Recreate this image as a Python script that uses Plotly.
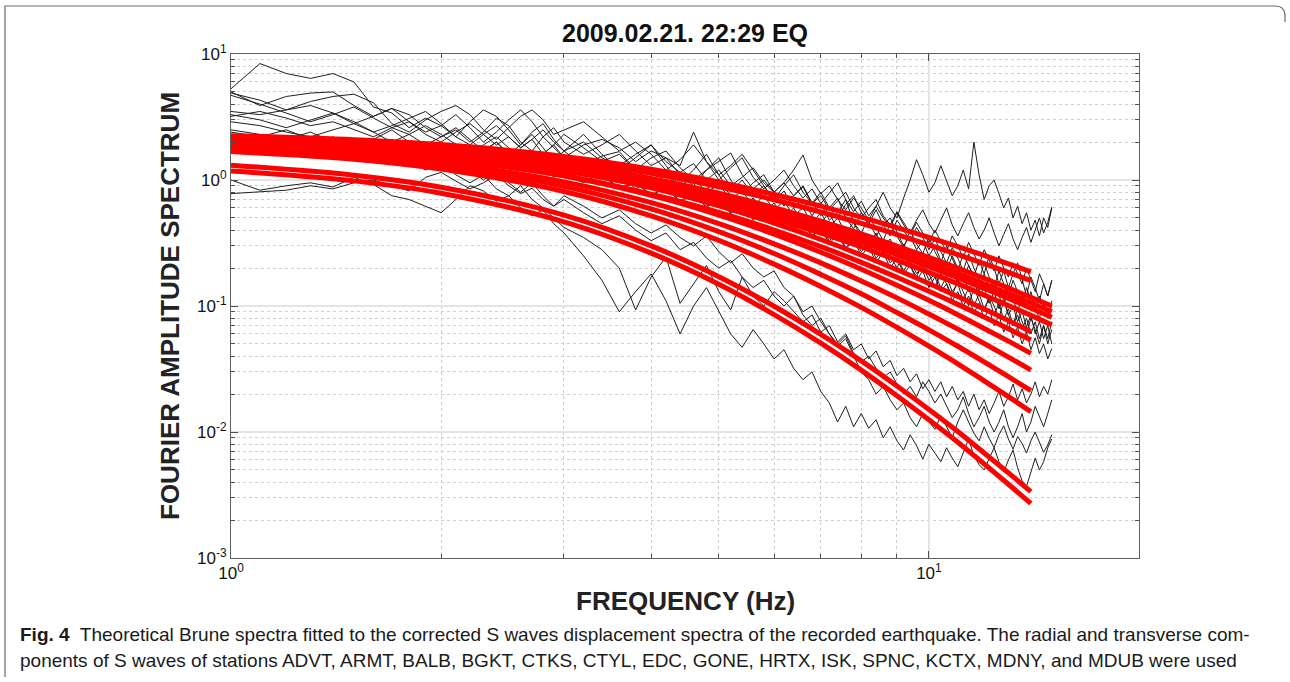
import math
import plotly.graph_objects as go

# ---------------- data ----------------
TITLE = "2009.02.21. 22:29 EQ"
X_TITLE = "FREQUENCY (Hz)"
Y_TITLE = "FOURIER AMPLITUDE SPECTRUM"
CAPTION_1 = ("<b>Fig. 4</b>  Theoretical Brune spectra fitted to the corrected S waves displacement spectra "
             "of the recorded earthquake. The radial and transverse com-")
CAPTION_2 = ("ponents of S waves of stations ADVT, ARMT, BALB, BGKT, CTKS, CTYL, EDC, GONE, HRTX, ISK, "
             "SPNC, KCTX, MDNY, and MDUB were used")

X_TICKS = [1, 10]
X_TICKTEXT = ["10<sup>0</sup>", "10<sup>1</sup>"]
Y_TICKS = [0.001, 0.01, 0.1, 1, 10]
Y_TICKTEXT = ["10<sup>-3</sup>", "10<sup>-2</sup>", "10<sup>-1</sup>", "10<sup>0</sup>", "10<sup>1</sup>"]
X_MINOR = [2, 3, 4, 5, 6, 7, 8, 9]
Y_MINOR = [0.002, 0.003, 0.004, 0.005, 0.006, 0.007, 0.008, 0.009,
           0.02, 0.03, 0.04, 0.05, 0.06, 0.07, 0.08, 0.09,
           0.2, 0.3, 0.4, 0.5, 0.6, 0.7, 0.8, 0.9,
           2, 3, 4, 5, 6, 7, 8, 9]

# frequency sampling of the observed spectra (Hz)
FREQ_OBS = [1.0, 1.1, 1.2, 1.3, 1.4, 1.5, 1.6, 1.7, 1.8, 1.9, 2.0, 2.1, 2.2, 2.3, 2.4, 2.5, 2.6, 2.7, 2.8, 2.9, 3.0,
            3.2, 3.4, 3.6, 3.8, 4.0, 4.2, 4.4, 4.6, 4.8, 5.0, 5.2, 5.4, 5.6, 5.8, 6.0,
            6.2, 6.4, 6.6, 6.8, 7.0, 7.2, 7.4, 7.6, 7.8, 8.0, 8.2, 8.4, 8.6, 8.8, 9.0, 9.2, 9.4, 9.6, 9.8, 10.0,
            10.2, 10.4, 10.6, 10.8, 11.0, 11.2, 11.4, 11.6, 11.8, 12.0, 12.2, 12.4, 12.6, 12.8, 13.0,
            13.2, 13.4, 13.6, 13.8, 14.0, 14.2, 14.4, 14.6, 14.8, 15.0]

# observed S-wave displacement spectra (black)
OBS_1 = [5.3, 8.4, 7.0, 6.4, 7.0, 6.0, 3.8, 3.4, 2.6, 3.1, 2.7, 2.2, 2.9, 3.6, 3.2, 2.5, 1.9, 2.4, 2.8, 2.1, 1.7,
         2.3, 1.6, 1.2, 1.5, 1.9, 1.3, 0.95, 1.2, 1.6, 1.1, 0.8, 1.0, 0.75, 0.9, 0.68,
         0.82, 0.6, 0.7, 0.52, 0.66, 0.48, 0.55, 0.7, 0.46, 0.38, 0.5, 0.42, 0.33, 0.45, 0.36, 0.29, 0.4, 0.31, 0.26, 0.35,
         0.27, 0.22, 0.3, 0.24, 0.19, 0.26, 0.21, 0.17, 0.23, 0.18, 0.25, 0.2, 0.15, 0.19, 0.14, 0.18, 0.22, 0.16, 0.12,
         0.17, 0.14, 0.11, 0.15, 0.12, 0.16]
OBS_2 = [5.0, 3.9, 4.6, 4.9, 5.0, 3.9, 3.2, 3.7, 2.9, 2.4, 2.7, 3.3, 2.6, 2.0, 2.4, 3.0, 3.6, 2.9, 2.2, 2.6, 2.0,
         1.6, 1.9, 2.3, 1.7, 1.3, 1.5, 1.1, 0.9, 1.2, 1.5, 1.0, 0.78, 0.95, 1.1, 0.8,
         0.62, 0.75, 0.9, 0.66, 0.52, 0.6, 0.72, 0.5, 0.41, 0.55, 0.47, 0.36, 0.44, 0.5, 0.38, 0.3, 0.36, 0.28, 0.33, 0.25,
         0.3, 0.23, 0.19, 0.25, 0.2, 0.16, 0.21, 0.17, 0.13, 0.18, 0.14, 0.16, 0.12, 0.1, 0.14, 0.11, 0.09, 0.12, 0.1,
         0.13, 0.095, 0.08, 0.11, 0.085, 0.1]
OBS_3 = [4.9, 4.3, 3.6, 4.2, 4.6, 4.8, 4.1, 2.8, 2.4, 3.0, 3.5, 3.9, 3.3, 2.5, 2.1, 2.6, 3.2, 3.6, 3.0, 2.3, 2.5,
         2.9, 2.2, 1.7, 2.0, 1.6, 1.2, 1.45, 1.9, 1.4, 1.0, 1.25, 1.5, 1.05, 0.85, 1.0,
         1.2, 0.9, 0.72, 0.85, 0.65, 0.78, 0.95, 0.7, 0.56, 0.68, 0.52, 0.62, 0.8, 0.6, 0.5, 0.72, 1.0, 1.45, 1.1, 0.8,
         0.95, 1.3, 1.0, 0.75, 0.9, 1.2, 0.85, 2.0, 1.1, 0.7, 0.9, 1.0, 0.78, 0.6, 0.72, 0.5, 0.62, 0.45, 0.55,
         0.4, 0.48, 0.36, 0.5, 0.42, 0.6]
OBS_4 = [3.5, 3.3, 3.6, 3.9, 3.4, 2.8, 3.2, 3.7, 3.3, 2.6, 2.2, 2.5, 2.0, 2.4, 3.1, 2.7, 2.0, 1.7, 2.2, 1.8, 1.5,
         1.9, 2.1, 1.8, 1.4, 1.7, 1.5, 1.3, 2.4, 1.4, 1.1, 1.3, 1.6, 1.2, 0.9, 0.7,
         0.9, 1.1, 0.8, 0.65, 0.8, 0.6, 0.5, 0.64, 0.75, 0.55, 0.45, 0.58, 0.44, 0.36, 0.48, 0.4, 0.33, 0.42, 0.35, 0.28,
         0.34, 0.27, 0.22, 0.29, 0.24, 0.19, 0.26, 0.2, 0.16, 0.22, 0.17, 0.14, 0.19, 0.15, 0.12, 0.16, 0.13, 0.1, 0.14,
         0.11, 0.09, 0.12, 0.1, 0.08, 0.11]
OBS_5 = [3.3, 3.0, 2.6, 3.0, 3.4, 2.9, 2.4, 2.7, 3.1, 3.5, 2.8, 2.2, 1.9, 2.3, 2.7, 2.2, 1.8, 2.1, 1.6, 1.9, 2.3,
         1.8, 1.4, 1.6, 1.2, 1.5, 1.7, 1.25, 1.0, 1.2, 1.4, 1.64, 1.1, 0.85, 1.0, 0.8,
         0.95, 1.2, 1.58, 1.0, 0.78, 0.9, 0.7, 0.58, 0.72, 0.6, 0.48, 0.62, 0.5, 0.42, 0.55, 0.44, 0.37, 0.46, 0.38, 0.32,
         0.4, 0.33, 0.27, 0.36, 0.3, 0.24, 0.32, 0.26, 0.21, 0.28, 0.23, 0.19, 0.25, 0.2, 0.17, 0.22, 0.18, 0.15, 0.2,
         0.16, 0.13, 0.18, 0.15, 0.12, 0.16]
OBS_6 = [3.2, 3.5, 3.1, 2.7, 2.9, 2.5, 2.2, 2.6, 2.3, 1.9, 2.2, 2.6, 2.1, 1.7, 2.0, 1.6, 1.9, 2.3, 1.8, 1.4, 1.7,
         1.3, 1.55, 1.68, 1.2, 0.95, 1.1, 0.9, 1.05, 0.8, 0.92, 0.7, 0.82, 0.62, 0.75, 0.58,
         0.68, 0.52, 0.6, 0.45, 0.55, 0.42, 0.5, 0.38, 0.46, 0.35, 0.3, 0.38, 0.29, 0.34, 0.26, 0.31, 0.24, 0.28, 0.21, 0.25,
         0.19, 0.23, 0.17, 0.2, 0.15, 0.18, 0.13, 0.16, 0.12, 0.14, 0.105, 0.13, 0.095, 0.115, 0.085, 0.1, 0.075, 0.09, 0.068,
         0.085, 0.06, 0.075, 0.055, 0.07, 0.05]
OBS_7 = [2.9, 2.7, 2.4, 2.2, 2.5, 2.8, 2.4, 2.0, 2.3, 2.7, 2.3, 1.9, 1.6, 1.9, 2.2, 1.8, 1.5, 1.3, 1.6, 1.9, 1.5,
         1.2, 1.4, 1.1, 0.85, 1.0, 1.2, 0.9, 0.7, 0.85, 1.0, 0.75, 0.6, 0.72, 0.55, 0.66,
         0.5, 0.6, 0.45, 0.38, 0.46, 0.55, 0.4, 0.32, 0.39, 0.3, 0.36, 0.27, 0.33, 0.25, 0.2, 0.26, 0.21, 0.17, 0.22, 0.18,
         0.14, 0.18, 0.15, 0.12, 0.16, 0.13, 0.1, 0.14, 0.11, 0.09, 0.12, 0.1, 0.08, 0.11, 0.085, 0.07, 0.095, 0.075, 0.06,
         0.08, 0.065, 0.05, 0.07, 0.055, 0.075]
OBS_8 = [2.5, 2.3, 2.1, 2.4, 2.0, 1.8, 2.1, 2.5, 2.0, 1.7, 1.9, 1.6, 1.4, 1.7, 2.0, 1.6, 1.3, 1.5, 1.2, 1.4, 1.1,
         0.95, 1.15, 0.85, 1.0, 0.75, 0.9, 0.65, 0.8, 0.6, 0.72, 0.54, 0.65, 0.48, 0.58, 0.44,
         0.52, 0.4, 0.48, 0.35, 0.42, 0.31, 0.38, 0.28, 0.34, 0.25, 0.3, 0.22, 0.27, 0.2, 0.24, 0.18, 0.21, 0.16, 0.19, 0.14,
         0.17, 0.13, 0.15, 0.11, 0.13, 0.1, 0.12, 0.088, 0.105, 0.08, 0.095, 0.07, 0.085, 0.062, 0.075, 0.056, 0.068, 0.05, 0.062,
         0.045, 0.056, 0.042, 0.05, 0.038, 0.046]
OBS_9 = [2.4, 2.2, 2.5, 2.1, 1.8, 2.0, 1.7, 1.5, 1.8, 1.6, 1.3, 1.5, 1.2, 1.0, 1.2, 0.95, 0.8, 0.95, 0.75, 0.62, 0.7,
         0.55, 0.45, 0.52, 0.4, 0.33, 0.38, 0.28, 0.32, 0.24, 0.2, 0.23, 0.17, 0.14, 0.16, 0.12,
         0.1, 0.12, 0.085, 0.07, 0.08, 0.06, 0.05, 0.058, 0.042, 0.036, 0.04, 0.032, 0.027, 0.03, 0.024, 0.02, 0.023, 0.019, 0.025, 0.021,
         0.017, 0.02, 0.016, 0.013, 0.015, 0.019, 0.014, 0.011, 0.013, 0.016, 0.012, 0.01, 0.012, 0.015, 0.011, 0.009, 0.011, 0.014, 0.01,
         0.012, 0.016, 0.013, 0.011, 0.014, 0.018]
OBS_10 = [1.0, 0.83, 0.9, 0.95, 0.88, 1.05, 0.92, 0.75, 0.7, 0.62, 0.55, 0.7, 0.9, 0.82, 0.68, 0.75, 0.6, 0.52, 0.58, 0.45, 0.38,
          0.25, 0.16, 0.09, 0.13, 0.18, 0.11, 0.06, 0.1, 0.14, 0.09, 0.06, 0.047, 0.065, 0.05, 0.038,
          0.045, 0.032, 0.026, 0.03, 0.021, 0.017, 0.012, 0.016, 0.011, 0.014, 0.0107, 0.0125, 0.009, 0.011, 0.0085, 0.0072, 0.0095, 0.0078, 0.0061, 0.008,
          0.0068, 0.0058, 0.0075, 0.0062, 0.0053, 0.0068, 0.0088, 0.0065, 0.0055, 0.005, 0.0062, 0.0075, 0.0058, 0.0048, 0.006, 0.0072, 0.0052, 0.0041, 0.0037,
          0.0048, 0.0062, 0.005, 0.0058, 0.0075, 0.0088]
OBS_11 = [0.78, 0.8, 0.83, 0.9, 0.85, 0.95, 1.0, 0.9, 0.82, 1.05, 1.15, 0.98, 0.85, 0.95, 1.1, 0.9, 0.78, 0.86, 0.7, 0.62, 0.75,
          0.62, 0.5, 0.58, 0.45, 0.38, 0.44, 0.35, 0.3, 0.36, 0.27, 0.22, 0.26, 0.2, 0.17, 0.19,
          0.14, 0.12, 0.09, 0.1, 0.075, 0.06, 0.048, 0.055, 0.04, 0.03, 0.026, 0.02, 0.023, 0.018, 0.015, 0.017, 0.013, 0.011, 0.014, 0.012,
          0.0105, 0.0135, 0.011, 0.009, 0.012, 0.015, 0.012, 0.0098, 0.0085, 0.011, 0.0089, 0.0075, 0.0095, 0.0112, 0.0088, 0.0073, 0.0092, 0.0081, 0.0068,
          0.0085, 0.01, 0.0082, 0.0069, 0.0079, 0.0095]
OBS_12 = [2.1, 1.9, 2.2, 1.8, 1.6, 1.9, 1.5, 1.7, 1.4, 1.2, 1.35, 1.1, 0.95, 1.1, 0.85, 0.75, 0.9, 0.7, 0.6, 0.5, 0.42,
          0.35, 0.28, 0.2, 0.093, 0.17, 0.245, 0.105, 0.15, 0.21, 0.13, 0.093, 0.17, 0.12, 0.1, 0.13,
          0.11, 0.09, 0.075, 0.085, 0.062, 0.07, 0.052, 0.06, 0.045, 0.05, 0.038, 0.044, 0.033, 0.037, 0.028, 0.032, 0.025, 0.029, 0.022, 0.026,
          0.021, 0.025, 0.019, 0.023, 0.018, 0.021, 0.016, 0.02, 0.015, 0.018, 0.014, 0.017, 0.021, 0.016, 0.019, 0.024, 0.018, 0.022, 0.017,
          0.02, 0.025, 0.019, 0.023, 0.02, 0.026]
OBS_13 = [1.8, 2.0, 1.7, 1.9, 2.2, 1.8, 1.6, 1.9, 1.7, 1.5, 1.75, 1.4, 1.6, 1.3, 1.5, 1.25, 1.4, 1.15, 1.3, 1.05, 1.2,
          0.98, 1.1, 0.85, 0.95, 0.75, 0.88, 0.68, 0.8, 0.62, 0.7, 0.55, 0.64, 0.5, 0.58, 0.45,
          0.52, 0.41, 0.47, 0.36, 0.42, 0.33, 0.38, 0.29, 0.34, 0.27, 0.31, 0.24, 0.28, 0.22, 0.25, 0.19, 0.23, 0.18, 0.21, 0.16,
          0.18, 0.14, 0.17, 0.13, 0.15, 0.11, 0.14, 0.1, 0.125, 0.095, 0.115, 0.085, 0.105, 0.078, 0.095, 0.07, 0.085, 0.065, 0.08,
          0.06, 0.075, 0.055, 0.07, 0.05, 0.065]
OBS_14 = [4.7, 4.0, 3.4, 2.9, 3.3, 3.8, 3.1, 2.6, 2.9, 2.3, 2.0, 2.4, 2.8, 2.3, 1.9, 2.2, 1.8, 2.1, 2.5, 2.0, 1.7,
          2.0, 1.5, 1.3, 1.6, 1.9, 1.4, 1.15, 1.35, 1.0, 1.2, 0.9, 1.05, 1.25, 0.95, 0.8,
          0.95, 0.75, 0.88, 0.65, 0.75, 0.58, 0.68, 0.8, 0.6, 0.5, 0.6, 0.7, 0.52, 0.44, 0.56, 0.46, 0.38, 0.48, 0.58, 0.45,
          0.38, 0.48, 0.6, 0.44, 0.36, 0.45, 0.55, 0.42, 0.34, 0.4, 0.5, 0.38, 0.3, 0.37, 0.45, 0.34, 0.28, 0.35, 0.42,
          0.32, 0.4, 0.5, 0.38, 0.46, 0.61]
OBSERVED = [OBS_1, OBS_2, OBS_3, OBS_4, OBS_5, OBS_6, OBS_7, OBS_8, OBS_9, OBS_10, OBS_11, OBS_12, OBS_13, OBS_14]

# theoretical Brune spectra (red), read at these frequencies
FREQ_FIT = [1, 1.5, 2, 3, 4, 5, 6, 7, 8, 9, 10, 11, 12, 13, 14, 15]
FIT_1 = [2.25, 2.09, 1.91, 1.54, 1.22, 0.964, 0.767, 0.621, 0.507, 0.419, 0.350, 0.296, 0.252, 0.216, 0.187]
FIT_2 = [2.15, 1.99, 1.80, 1.44, 1.13, 0.883, 0.697, 0.557, 0.452, 0.369, 0.306, 0.256, 0.217, 0.185, 0.159]
FIT_3 = [2.10, 1.92, 1.73, 1.35, 1.03, 0.785, 0.604, 0.471, 0.373, 0.299, 0.243, 0.200, 0.166, 0.139, 0.117, 0.100]
FIT_4 = [2.00, 1.83, 1.64, 1.28, 0.968, 0.735, 0.562, 0.437, 0.344, 0.274, 0.222, 0.182, 0.150, 0.126, 0.106, 0.090]
FIT_5 = [1.95, 1.78, 1.59, 1.23, 0.927, 0.698, 0.531, 0.410, 0.321, 0.255, 0.205, 0.167, 0.138, 0.115, 0.0962, 0.0813]
FIT_6 = [1.90, 1.73, 1.54, 1.18, 0.881, 0.658, 0.495, 0.378, 0.294, 0.231, 0.185, 0.150, 0.122, 0.101, 0.0843, 0.0708]
FIT_7 = [2.05, 1.85, 1.62, 1.20, 0.867, 0.624, 0.454, 0.337, 0.254, 0.194, 0.151, 0.119, 0.0946, 0.0766, 0.0625]
FIT_8 = [1.85, 1.66, 1.46, 1.08, 0.771, 0.553, 0.401, 0.296, 0.222, 0.169, 0.131, 0.103, 0.0818, 0.0659, 0.0537]
FIT_9 = [1.95, 1.74, 1.51, 1.08, 0.755, 0.527, 0.372, 0.267, 0.196, 0.146, 0.111, 0.0853, 0.0664, 0.0526, 0.0421]
FIT_10 = [1.80, 1.59, 1.37, 0.966, 0.661, 0.451, 0.311, 0.220, 0.158, 0.116, 0.0863, 0.0655, 0.0504, 0.0393, 0.0310]
FIT_11 = [1.75, 1.53, 1.30, 0.891, 0.589, 0.389, 0.261, 0.178, 0.125, 0.0887, 0.0647, 0.0479, 0.0360, 0.0275, 0.0213]
FIT_12 = [1.68, 1.46, 1.22, 0.811, 0.519, 0.332, 0.215, 0.143, 0.0975, 0.0676, 0.0480, 0.0348, 0.0255, 0.0191, 0.0145]
FIT_13 = [1.31, 1.09, 0.877, 0.526, 0.300, 0.171, 0.0995, 0.0596, 0.0367, 0.0232, 0.0151, 0.0101, 0.00682, 0.00474, 0.00336]
FIT_14 = [1.18, 0.984, 0.785, 0.466, 0.263, 0.149, 0.0855, 0.0507, 0.0310, 0.0194, 0.0125, 0.0083, 0.00558, 0.00385, 0.00271]
FITTED = [FIT_1, FIT_2, FIT_3, FIT_4, FIT_5, FIT_6, FIT_7, FIT_8, FIT_9, FIT_10, FIT_11, FIT_12, FIT_13, FIT_14]

# ---------------- layout helpers (pixel -> paper) ----------------
FIG_W, FIG_H = 1290, 682
PL, PR, PT, PB = 231, 1139, 54, 558
PW, PH = PR - PL, PB - PT


def px(x):
    return (x - PL) / PW


def py(y):
    return (PB - y) / PH


FONT = "Liberation Sans, Arial, Helvetica, sans-serif"

fig = go.Figure()

for vals in OBSERVED:
    n = min(len(vals), len(FREQ_OBS))
    fig.add_trace(go.Scatter(x=FREQ_OBS[:n], y=vals[:n], mode="lines",
                             line=dict(color="#1e1e1e", width=1), hoverinfo="skip", showlegend=False))

for vals in FITTED:
    n = min(len(vals), len(FREQ_FIT))
    fig.add_trace(go.Scatter(x=FREQ_FIT[:n], y=vals[:n], mode="lines",
                             line=dict(color="#ff0000", width=5, shape="spline", smoothing=1),
                             hoverinfo="skip", showlegend=False))

axis_common = dict(
    type="log", ticks="inside", ticklen=7, tickwidth=1, tickcolor="#505050",
    showline=True, linecolor="#606060", linewidth=1, mirror="ticks",
    showgrid=True, gridcolor="#e4e4e4", gridwidth=2, zeroline=False,
    tickfont=dict(family=FONT, size=17, color="#111111"),
)

fig.update_xaxes(
    **axis_common, range=[0, math.log10(20)], tickvals=X_TICKS, ticktext=X_TICKTEXT,
    minor=dict(tickvals=X_MINOR, ticks="inside", ticklen=4, tickcolor="#505050",
               showgrid=True, gridcolor="#cfcfcf", griddash="dot", gridwidth=1),
)
fig.update_yaxes(
    **axis_common, range=[-3, 1], tickvals=Y_TICKS, ticktext=Y_TICKTEXT,
    minor=dict(tickvals=Y_MINOR, ticks="inside", ticklen=4, tickcolor="#505050",
               showgrid=True, gridcolor="#cfcfcf", griddash="dot", gridwidth=1),
)

annotations = [
    dict(text=f"<b>{TITLE}</b>", x=0.5, y=py(33), xref="paper", yref="paper",
         xanchor="center", yanchor="middle", showarrow=False,
         font=dict(family=FONT, size=25, color="#111111")),
    dict(text=f"<b>{X_TITLE}</b>", x=0.5, y=py(601), xref="paper", yref="paper",
         xanchor="center", yanchor="middle", showarrow=False,
         font=dict(family=FONT, size=26, color="#222222")),
    dict(text=f"<b>{Y_TITLE}</b>", x=px(170), y=py(306), xref="paper", yref="paper",
         xanchor="center", yanchor="middle", showarrow=False, textangle=-90,
         font=dict(family=FONT, size=26, color="#222222")),
    dict(text=CAPTION_1, x=px(18), y=py(634), xref="paper", yref="paper",
         xanchor="left", yanchor="middle", showarrow=False,
         font=dict(family=FONT, size=19, color="#1a1a1a")),
    dict(text=CAPTION_2, x=px(18), y=py(660), xref="paper", yref="paper",
         xanchor="left", yanchor="middle", showarrow=False,
         font=dict(family=FONT, size=19, color="#1a1a1a")),
]

border_path = (f"M {px(5)},{py(677)} L {px(5)},{py(6)} L {px(1275)},{py(6)} "
               f"Q {px(1285)},{py(6)} {px(1285)},{py(16)} L {px(1285)},{py(22)}")

fig.update_layout(
    width=FIG_W, height=FIG_H,
    margin=dict(l=PL, r=FIG_W - PR, t=PT, b=FIG_H - PB, autoexpand=False),
    paper_bgcolor="white", plot_bgcolor="white",
    showlegend=False,
    annotations=annotations,
    shapes=[dict(type="path", path=border_path, xref="paper", yref="paper",
                 line=dict(color="#6a6a6a", width=1.2), layer="above")],
)

fig.write_html("out.html")
